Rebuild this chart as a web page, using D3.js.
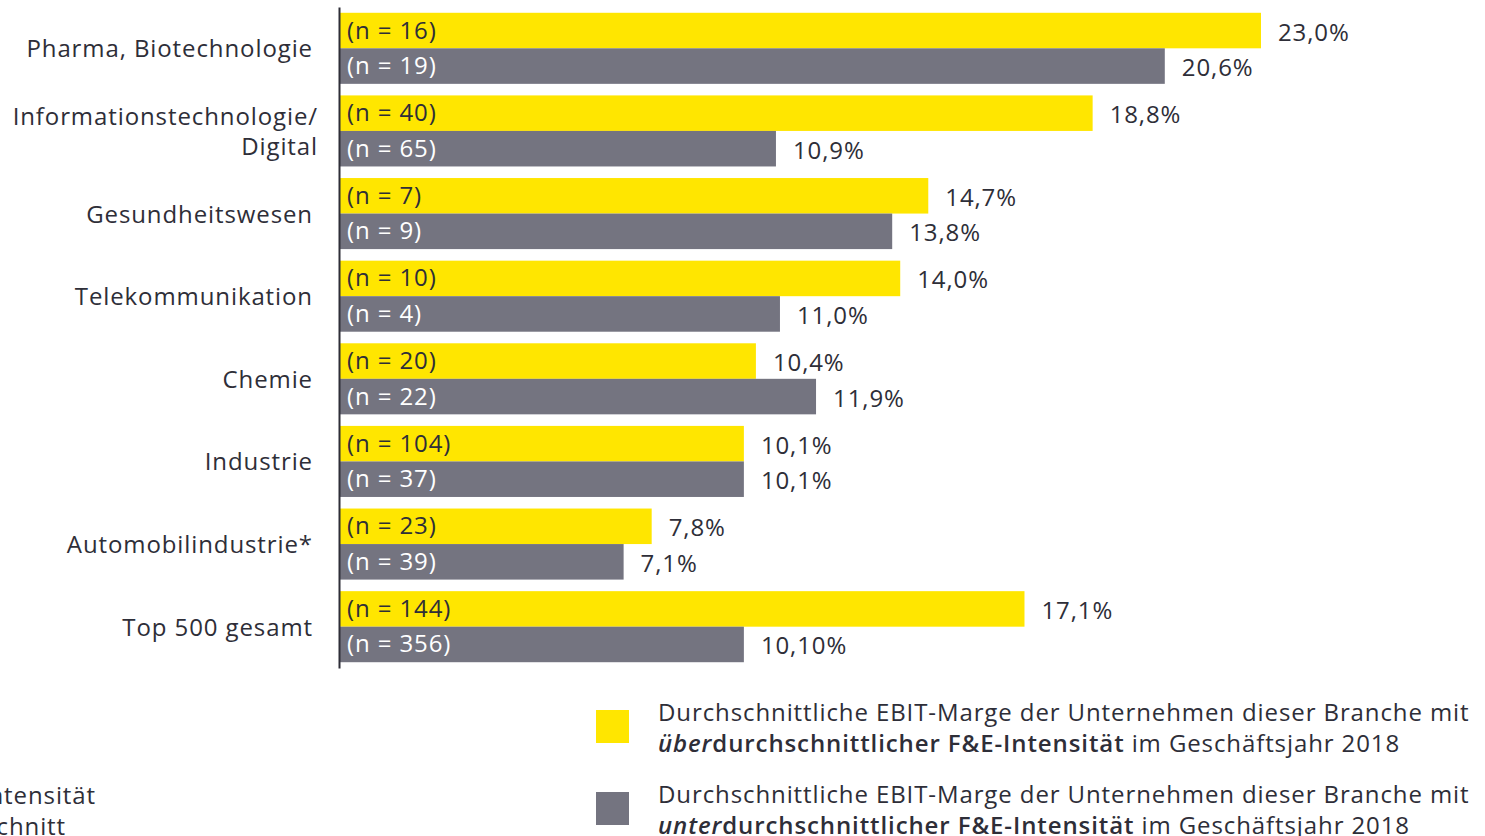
<!DOCTYPE html>
<html>
<head>
<meta charset="utf-8">
<script src="https://cdn.jsdelivr.net/npm/d3@7"></script>
<style>
  body { margin: 0; background: #fff; }
  svg { display: block; font-family: 'Open Sans', sans-serif; letter-spacing: 0.9px; }
</style>
</head>
<body>
<svg></svg>
<script>
// ---- data ----
let categories = ['Pharma, Biotechnologie', 'Informationstechnologie/|Digital', 'Gesundheitswesen',
  'Telekommunikation', 'Chemie', 'Industrie', 'Automobilindustrie*', 'Top 500 gesamt']
let aboveValues = [23.0, 18.8, 14.7, 14.0, 10.4, 10.1, 7.8, 17.1]
let belowValues = [20.6, 10.9, 13.8, 11.0, 11.9, 10.1, 7.1, 10.1]
let aboveLabels = ['23,0%', '18,8%', '14,7%', '14,0%', '10,4%', '10,1%', '7,8%', '17,1%']
let belowLabels = ['20,6%', '10,9%', '13,8%', '11,0%', '11,9%', '10,1%', '7,1%', '10,10%']
let aboveN = [16, 40, 7, 10, 20, 104, 23, 144]
let belowN = [19, 65, 9, 4, 22, 37, 39, 356]

let width = 1485
let height = 836
let yellow = '#FFE600'
let grey = '#747480'
let textCol = '#2e2e38'

let svg = d3.select('svg').attr('width', width).attr('height', height)

let rows = categories.map((c, i) => ({
  cat: c,
  bars: [
    {key: 'above', v: aboveValues[i], label: aboveLabels[i], n: aboveN[i]},
    {key: 'below', v: belowValues[i], label: belowLabels[i], n: belowN[i]}
  ]
}))

let xScale = d3.scaleLinear().domain([0, 23]).range([339, 1261])
let yScale = d3.scaleBand().domain(categories).range([7, 668]).paddingInner(0.14).paddingOuter(0.07)
let subScale = d3.scaleBand().domain(['above', 'below']).range([0, yScale.bandwidth()])

let groups = svg.selectAll('g.row')
  .data(rows)
  .enter()
  .append('g')
  .attr('class', 'row')
  .attr('transform', d => 'translate(0,' + yScale(d.cat) + ')')

groups.selectAll('rect')
  .data(d => d.bars)
  .enter()
  .append('rect')
  .attr('x', xScale(0))
  .attr('y', d => subScale(d.key))
  .attr('width', d => xScale(d.v) - xScale(0))
  .attr('height', subScale.bandwidth())
  .attr('fill', d => d.key == 'above' ? yellow : grey)

// n labels inside bars
groups.selectAll('text.n')
  .data(d => d.bars)
  .enter()
  .append('text')
  .attr('class', 'n')
  .attr('x', xScale(0) + 8)
  .attr('y', d => subScale(d.key) + subScale.bandwidth() / 2 + 8)
  .attr('font-size', 24)
  .attr('fill', d => d.key == 'above' ? textCol : '#ffffff')
  .text(d => '(n = ' + d.n + ')')

// value labels
groups.selectAll('text.val')
  .data(d => d.bars)
  .enter()
  .append('text')
  .attr('class', 'val')
  .attr('x', d => xScale(d.v) + 17)
  .attr('y', d => subScale(d.key) + subScale.bandwidth() / 2 + 10)
  .attr('font-size', 24)
  .attr('fill', textCol)
  .text(d => d.label)

// category labels
groups.append('text')
  .attr('text-anchor', 'end')
  .attr('font-size', 24)
  .attr('fill', textCol)
  .each(function (d) {
    let lines = d.cat.split('|')
    let t = d3.select(this)
    let mid = yScale.bandwidth() / 2
    lines.forEach((l, i) => {
      t.append('tspan')
        .attr('x', lines.length > 1 ? 318 : 313)
        .attr('y', mid + 9 + (i - (lines.length - 1) / 2) * 30)
        .text(l)
    })
  })

// axis line
let yAxis = d3.axisLeft(yScale).tickSize(0).tickSizeOuter(0).tickFormat('')
svg.append('g')
  .attr('transform', 'translate(' + xScale(0) + ',0)')
  .call(yAxis)
  .call(g => g.select('.domain').attr('stroke', textCol).attr('stroke-width', 2))

// legend
let legend = [
  {color: yellow, pre: 'über', y: 710},
  {color: grey, pre: 'unter', y: 792}
]
legend.forEach(l => {
  svg.append('rect').attr('x', 596).attr('y', l.y).attr('width', 33).attr('height', 33).attr('fill', l.color)
  let t = svg.append('text').attr('font-size', 24).attr('fill', textCol)
  t.append('tspan').attr('x', 658).attr('y', l.y + 11)
    .text('Durchschnittliche EBIT-Marge der Unternehmen dieser Branche mit')
  t.append('tspan').attr('x', 658).attr('y', l.y + 42)
    .attr('font-style', 'italic').attr('font-weight', 600).text(l.pre)
  t.append('tspan').attr('font-weight', 600).text('durchschnittlicher F&E-Intensität')
  t.append('tspan').text(' im Geschäftsjahr 2018')
})

// cut-off footnote at the bottom left
svg.append('text').attr('text-anchor', 'end').attr('x', 96).attr('y', 804)
  .attr('font-size', 24).attr('fill', textCol).text('F&E-Intensität')
svg.append('text').attr('text-anchor', 'end').attr('x', 66).attr('y', 835)
  .attr('font-size', 24).attr('fill', textCol).text('Durchschnitt')
</script>
</body>
</html>
